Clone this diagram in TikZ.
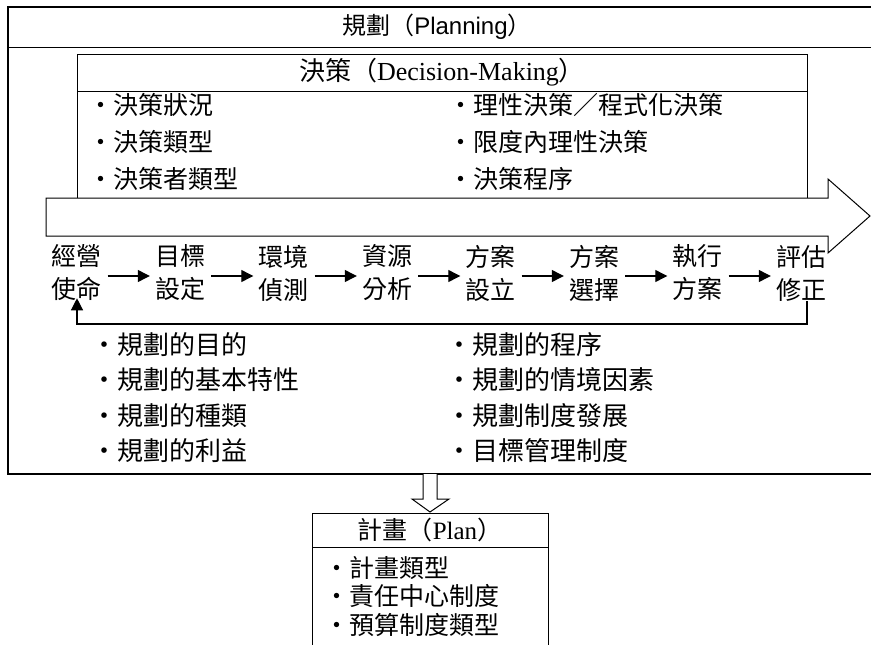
\documentclass[tikz,border=0pt]{standalone}
\usepackage{fontspec}
\setmainfont{Liberation Serif}
\setsansfont{Liberation Sans}
\newfontfamily\cjk{Noto Sans CJK TC}
\usetikzlibrary{arrows.meta,positioning}

\tikzset{
	box/.style={line width=1pt},
	item/.style={anchor=west, inner sep=0pt, font=\cjk\fontsize{25}{25}\selectfont},
	bigitem/.style={anchor=west, inner sep=0pt, font=\cjk\fontsize{26}{26}\selectfont},
	stage/.style={inner sep=0pt, align=center, font=\cjk\fontsize{25}{33}\selectfont},
	flow/.style={line width=1.2pt, -{Triangle[length=12pt,width=12pt]}}
}

\begin{document}
\begin{tikzpicture}[x=1pt,y=-1pt]
	\useasboundingbox (0,0) rectangle (871,645);
	
	% Planning frame
	\draw[box, line width=1.4pt] (880,7) -- (8,7) -- (8,474) -- (880,474);
	\draw[box] (8,47) -- (880,47);
	\node (planning) at (437,27) {\sffamily\fontsize{24}{24}\selectfont{\cjk 規劃（}Planning{\cjk ）}};
	
	% Decision box
	\draw[box] (77,198) -- (77,54) -- (807,54) -- (807,198);
	\draw[box] (77,91) -- (807,91);
	\node (decision) at (442,72) {\fontsize{26}{26}\selectfont{\cjk 決策（}Decision-Making{\cjk ）}};
	\node[item] (d1) at (88,105) {・決策狀況};
	\node[item] (d2) at (88,142) {・決策類型};
	\node[item] (d3) at (88,179) {・決策者類型};
	\node[item] (d4) at (448,105) {・理性決策／程式化決策};
	\node[item] (d5) at (448,142) {・限度內理性決策};
	\node[item] (d6) at (448,179) {・決策程序};
	
	% big arrow
	\draw[box, fill=white] (46,198) -- (828,198) -- (828,179) -- (870,216)
		-- (828,253) -- (828,236) -- (46,236) -- cycle;
	
	% stages
	\node[stage] (s1) at (76.5,273) {經營\\使命};
	\node[stage] (s2) at (180,273) {目標\\設定};
	\node[stage] (s3) at (283.5,273) {環境\\偵測};
	\node[stage] (s4) at (387,273) {資源\\分析};
	\node[stage] (s5) at (490.5,273) {方案\\設立};
	\node[stage] (s6) at (594,273) {方案\\選擇};
	\node[stage] (s7) at (697.5,273) {執行\\方案};
	\node[stage] (s8) at (801,273) {評估\\修正};
	\foreach \a/\b in {s1/s2,s2/s3,s3/s4,s4/s5,s5/s6,s6/s7,s7/s8}
		\draw[flow, shorten <=6pt, shorten >=5pt] ([yshift=-3pt]\a.east) -- ([yshift=-3pt]\b.west);
	
	\coordinate (fbR) at (807,324);
	\coordinate (fbL) at (77,324);
	\draw[flow] (s8.south -| fbR) -- (fbR) -- (fbL) -- ([yshift=3pt]s1.south -| fbL);
	
	% planning items
	\node[bigitem] (p1) at (91,345) {・規劃的目的};
	\node[bigitem] (p2) at (91,380) {・規劃的基本特性};
	\node[bigitem] (p3) at (91,416) {・規劃的種類};
	\node[bigitem] (p4) at (91,451) {・規劃的利益};
	\node[bigitem] (p5) at (446,345) {・規劃的程序};
	\node[bigitem] (p6) at (446,380) {・規劃的情境因素};
	\node[bigitem] (p7) at (446,416) {・規劃制度發展};
	\node[bigitem] (p8) at (446,451) {・目標管理制度};
	
	% hollow arrow down to plan
	\draw[box, fill=white] (423,474) -- (423,499) -- (412,499) -- (430,512)
		-- (449,499) -- (437,499) -- (437,474);
	
	% Plan box
	\draw[box] (312,650) -- (312,513) -- (548,513) -- (548,650);
	\draw[box] (312,547) -- (548,547);
	\node (plan) at (430,530) {\fontsize{25}{25}\selectfont{\cjk 計畫（}Plan{\cjk ）}};
	\node[item] (q1) at (324,568) {・計畫類型};
	\node[item] (q2) at (324,596) {・責任中心制度};
	\node[item] (q3) at (324,625) {・預算制度類型};
\end{tikzpicture}
\end{document}
